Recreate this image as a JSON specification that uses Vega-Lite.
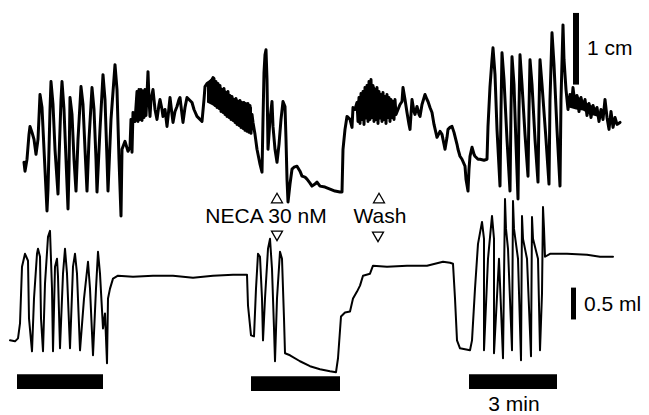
{
  "$schema": "https://vega.github.io/schema/vega-lite/v6.json",
  "width": 649,
  "height": 415,
  "padding": 0,
  "autosize": {"type": "fit", "contains": "padding"},
  "background": "white",
  "config": {"view": {"stroke": null}},
  "datasets": {
    "top": [
      {"t":24,"v":163},{"t":25,"v":172},{"t":27,"v":160},{"t":29,"v":135},{"t":30,"v":127},{"t":32,"v":133},{"t":34,"v":140},{"t":36,"v":155},{"t":38,"v":140},{"t":40,"v":95},{"t":42,"v":108},{"t":44,"v":150},{"t":47,"v":212},{"t":48,"v":190},{"t":50,"v":110},{"t":51,"v":82},{"t":53,"v":105},{"t":55,"v":150},{"t":58,"v":195},{"t":59,"v":160},{"t":61,"v":100},{"t":62,"v":82},{"t":64,"v":110},{"t":66,"v":160},{"t":68,"v":210},{"t":69,"v":170},{"t":70,"v":98},{"t":72,"v":115},{"t":74,"v":160},{"t":76,"v":192},{"t":78,"v":140},{"t":81,"v":87},{"t":83,"v":105},{"t":85,"v":150},{"t":87,"v":192},{"t":89,"v":140},{"t":92,"v":88},{"t":94,"v":110},{"t":96,"v":160},{"t":97,"v":193},{"t":100,"v":130},{"t":103,"v":75},{"t":105,"v":100},{"t":107,"v":160},{"t":108,"v":192},{"t":111,"v":120},{"t":115,"v":65},{"t":117,"v":90},{"t":119,"v":160},{"t":121,"v":217},{"t":122,"v":150},{"t":125,"v":142},{"t":128,"v":152},{"t":130,"v":148},{"t":131,"v":120},{"t":132,"v":153},{"t":133,"v":113},{"t":135,"v":122},{"t":137,"v":92},{"t":138,"v":122},{"t":139,"v":90},{"t":140,"v":120},{"t":141,"v":90},{"t":142,"v":121},{"t":143,"v":92},{"t":144,"v":118},{"t":145,"v":90},{"t":146,"v":116},{"t":147,"v":95},{"t":148,"v":72},{"t":149,"v":100},{"t":150,"v":117},{"t":151,"v":100},{"t":153,"v":90},{"t":155,"v":110},{"t":157,"v":120},{"t":159,"v":105},{"t":160,"v":100},{"t":162,"v":110},{"t":163,"v":117},{"t":165,"v":110},{"t":167,"v":127},{"t":169,"v":108},{"t":170,"v":98},{"t":172,"v":115},{"t":173,"v":123},{"t":175,"v":112},{"t":177,"v":107},{"t":179,"v":100},{"t":180,"v":98},{"t":182,"v":115},{"t":183,"v":123},{"t":185,"v":108},{"t":187,"v":98},{"t":189,"v":100},{"t":192,"v":103},{"t":194,"v":110},{"t":197,"v":117},{"t":200,"v":120},{"t":202,"v":122},{"t":204,"v":100},{"t":205,"v":87},{"t":207,"v":84},{"t":210,"v":82},{"t":212,"v":80},{"t":213,"v":78},
      {"t":214,"v":79},{"t":215,"v":106},{"t":216,"v":82},{"t":217,"v":108},{"t":218,"v":84},{"t":219,"v":109},{"t":220,"v":86},{"t":221,"v":112},{"t":222,"v":90},{"t":223,"v":113},{"t":224,"v":89},{"t":225,"v":115},{"t":226,"v":93},{"t":227,"v":117},{"t":228,"v":92},{"t":229,"v":118},{"t":230,"v":96},{"t":231,"v":120},{"t":232,"v":97},{"t":233,"v":121},{"t":234,"v":100},{"t":235,"v":123},{"t":236,"v":99},{"t":237,"v":125},{"t":238,"v":102},{"t":239,"v":126},{"t":240,"v":101},{"t":241,"v":128},{"t":242,"v":104},{"t":243,"v":129},{"t":244,"v":103},{"t":245,"v":131},{"t":246,"v":105},{"t":247,"v":132},{"t":248,"v":104},{"t":249,"v":133},{"t":250,"v":106},{"t":251,"v":134},{"t":252,"v":115},
      {"t":253,"v":123},{"t":255,"v":135},{"t":257,"v":150},{"t":260,"v":165},{"t":262,"v":173},{"t":263,"v":120},{"t":264,"v":73},{"t":265,"v":55},{"t":266,"v":50},{"t":267,"v":80},{"t":268,"v":150},{"t":270,"v":120},{"t":272,"v":102},{"t":273,"v":127},{"t":275,"v":150},{"t":277,"v":163},{"t":279,"v":145},{"t":281,"v":120},{"t":283,"v":102},{"t":285,"v":107},{"t":286,"v":140},{"t":287,"v":180},{"t":288,"v":203},{"t":290,"v":185},{"t":292,"v":170},{"t":294,"v":168},{"t":297,"v":167},{"t":300,"v":172},{"t":302,"v":177},{"t":305,"v":178},{"t":307,"v":180},{"t":310,"v":184},{"t":312,"v":187},{"t":315,"v":185},{"t":317,"v":183},{"t":320,"v":187},{"t":325,"v":188},{"t":330,"v":190},{"t":335,"v":192},{"t":340,"v":193},{"t":342,"v":193},{"t":343,"v":150},{"t":345,"v":130},{"t":347,"v":117},{"t":350,"v":120},{"t":352,"v":128},{"t":353,"v":108},{"t":355,"v":110},{"t":357,"v":103},
      {"t":358,"v":122},{"t":359,"v":98},{"t":360,"v":124},{"t":361,"v":94},{"t":362,"v":120},{"t":363,"v":92},{"t":364,"v":125},{"t":365,"v":88},{"t":366,"v":118},{"t":367,"v":86},{"t":368,"v":122},{"t":369,"v":82},{"t":370,"v":120},{"t":371,"v":80},{"t":372,"v":118},{"t":373,"v":86},{"t":374,"v":122},{"t":375,"v":90},{"t":376,"v":120},{"t":377,"v":88},{"t":378,"v":124},{"t":379,"v":92},{"t":380,"v":118},{"t":381,"v":95},{"t":382,"v":122},{"t":383,"v":93},{"t":384,"v":120},{"t":385,"v":97},{"t":386,"v":124},{"t":387,"v":95},{"t":388,"v":118},{"t":389,"v":98},{"t":390,"v":122},{"t":391,"v":100},{"t":392,"v":118},{"t":393,"v":102},{"t":394,"v":120},{"t":395,"v":100},{"t":396,"v":115},{"t":398,"v":110},{"t":400,"v":105},{"t":402,"v":102},{"t":403,"v":88},{"t":405,"v":100},{"t":407,"v":113},{"t":409,"v":125},{"t":410,"v":130},{"t":412,"v":100},{"t":414,"v":112},{"t":415,"v":115},{"t":417,"v":107},{"t":419,"v":115},{"t":420,"v":117},{"t":422,"v":105},{"t":425,"v":95},{"t":427,"v":100},{"t":428,"v":102},{"t":430,"v":108},{"t":432,"v":113},{"t":434,"v":125},{"t":437,"v":138},{"t":440,"v":132},{"t":442,"v":135},{"t":444,"v":145},{"t":445,"v":150},{"t":447,"v":138},{"t":448,"v":130},{"t":450,"v":128},{"t":452,"v":127},{"t":454,"v":133},{"t":455,"v":137},{"t":457,"v":145},{"t":458,"v":150},{"t":460,"v":157},{"t":462,"v":160},{"t":465,"v":167},{"t":466,"v":180},{"t":468,"v":192},{"t":469,"v":170},{"t":470,"v":157},{"t":472,"v":148},{"t":474,"v":155},{"t":475,"v":157},{"t":478,"v":160},{"t":480,"v":160},{"t":484,"v":161},{"t":487,"v":160},{"t":488,"v":127},{"t":490,"v":87},{"t":492,"v":60},{"t":493,"v":48},
      {"t":495,"v":75},{"t":497,"v":130},{"t":500,"v":187},{"t":501,"v":110},{"t":502,"v":53},{"t":504,"v":80},{"t":507,"v":140},{"t":510,"v":192},{"t":511,"v":110},{"t":512,"v":57},{"t":514,"v":85},{"t":516,"v":145},{"t":518,"v":200},{"t":519,"v":110},{"t":520,"v":55},{"t":522,"v":85},{"t":525,"v":135},{"t":528,"v":177},{"t":529,"v":110},{"t":530,"v":60},{"t":532,"v":85},{"t":535,"v":140},{"t":538,"v":183},{"t":539,"v":110},{"t":540,"v":60},{"t":542,"v":85},{"t":546,"v":140},{"t":549,"v":185},{"t":550,"v":100},{"t":552,"v":33},{"t":554,"v":65},{"t":557,"v":130},{"t":560,"v":187},{"t":561,"v":100},{"t":563,"v":25},
      {"t":564,"v":60},{"t":566,"v":90},{"t":568,"v":110},{"t":570,"v":95},{"t":572,"v":100},{"t":573,"v":88},{"t":575,"v":105},{"t":577,"v":96},{"t":579,"v":112},{"t":581,"v":98},{"t":583,"v":108},{"t":585,"v":100},{"t":587,"v":116},{"t":589,"v":104},{"t":591,"v":118},{"t":593,"v":106},{"t":595,"v":114},{"t":597,"v":108},{"t":599,"v":122},{"t":601,"v":110},{"t":603,"v":120},{"t":605,"v":100},{"t":607,"v":118},{"t":609,"v":130},{"t":611,"v":112},{"t":613,"v":128},{"t":615,"v":118},{"t":617,"v":125},{"t":620,"v":123}
    ],
    "bands": [
      {"band":"a","t":136,"lo":92,"hi":120},{"band":"a","t":140,"lo":90,"hi":121},{"band":"a","t":144,"lo":90,"hi":118},{"band":"a","t":147,"lo":93,"hi":114},
      {"band":"b","t":207,"lo":83,"hi":103},{"band":"b","t":213,"lo":78,"hi":106},{"band":"b","t":220,"lo":87,"hi":110},{"band":"b","t":227,"lo":92,"hi":116},{"band":"b","t":233,"lo":98,"hi":120},{"band":"b","t":240,"lo":101,"hi":126},{"band":"b","t":247,"lo":103,"hi":131},{"band":"b","t":252,"lo":108,"hi":134},
      {"band":"c","t":357,"lo":102,"hi":117},{"band":"c","t":362,"lo":94,"hi":120},{"band":"c","t":367,"lo":87,"hi":120},{"band":"c","t":371,"lo":83,"hi":119},{"band":"c","t":376,"lo":89,"hi":120},{"band":"c","t":382,"lo":95,"hi":120},{"band":"c","t":388,"lo":98,"hi":119},{"band":"c","t":394,"lo":101,"hi":118},
      {"band":"d","t":569,"lo":97,"hi":108},{"band":"d","t":576,"lo":95,"hi":110},{"band":"d","t":583,"lo":101,"hi":111},{"band":"d","t":590,"lo":105,"hi":115},{"band":"d","t":597,"lo":109,"hi":117}
    ],
    "bottom": [
      {"t":10,"v":342},{"t":15,"v":343},{"t":18,"v":340},{"t":20,"v":325},{"t":22,"v":268},{"t":25,"v":255},{"t":28,"v":262},{"t":29,"v":320},{"t":32,"v":353},{"t":34,"v":300},{"t":37,"v":255},{"t":38,"v":250},{"t":40,"v":258},{"t":41,"v":320},{"t":43,"v":353},{"t":45,"v":285},{"t":48,"v":238},{"t":50,"v":232},{"t":52,"v":290},{"t":53,"v":353},{"t":55,"v":268},{"t":57,"v":260},{"t":58,"v":278},{"t":60,"v":350},{"t":63,"v":275},{"t":65,"v":250},{"t":67,"v":275},{"t":70,"v":350},{"t":73,"v":268},{"t":75,"v":255},{"t":77,"v":275},{"t":80,"v":352},{"t":84,"v":300},{"t":88,"v":263},{"t":90,"v":290},{"t":93,"v":357},{"t":96,"v":290},{"t":98,"v":253},{"t":100,"v":275},{"t":103,"v":330},{"t":107,"v":365},{"t":105,"v":315},{"t":108,"v":300},{"t":110,"v":290},{"t":113,"v":280},{"t":118,"v":277},{"t":133,"v":278},{"t":153,"v":277},{"t":173,"v":277},{"t":193,"v":279},{"t":213,"v":277},{"t":233,"v":276},{"t":247,"v":276},{"t":248,"v":307},{"t":251,"v":337},{"t":254,"v":338},{"t":256,"v":290},{"t":258,"v":255},{"t":260,"v":258},{"t":262,"v":300},{"t":263,"v":342},{"t":265,"v":300},{"t":268,"v":250},{"t":270,"v":240},{"t":272,"v":270},{"t":274,"v":330},{"t":275,"v":363},{"t":277,"v":300},{"t":280,"v":253},{"t":282,"v":260},{"t":284,"v":320},{"t":285,"v":355},{"t":290,"v":357},{"t":300,"v":363},{"t":310,"v":368},{"t":320,"v":371},{"t":330,"v":373},{"t":336,"v":374},{"t":338,"v":360},{"t":341,"v":318},{"t":345,"v":314},{"t":350,"v":313},{"t":353,"v":300},{"t":357,"v":293},{"t":360,"v":287},{"t":363,"v":277},{"t":370,"v":275},{"t":373,"v":267},{"t":387,"v":268},{"t":407,"v":267},{"t":427,"v":267},{"t":443,"v":263},{"t":450,"v":264},{"t":453,"v":265},{"t":455,"v":300},{"t":457,"v":342},{"t":460,"v":350},{"t":470,"v":352},{"t":472,"v":342},{"t":475,"v":290},{"t":478,"v":245},{"t":482,"v":223},{"t":484,"v":240},{"t":484,"v":352},{"t":488,"v":260},{"t":492,"v":217},{"t":494,"v":240},{"t":494,"v":355},{"t":499,"v":260},{"t":505,"v":200},{"t":506,"v":230},{"t":503,"v":360},{"t":508,"v":250},{"t":513,"v":202},{"t":514,"v":230},{"t":512,"v":352},{"t":518,"v":260},{"t":522,"v":217},{"t":523,"v":240},{"t":521,"v":362},{"t":527,"v":260},{"t":532,"v":218},{"t":533,"v":240},{"t":531,"v":358},{"t":538,"v":260},{"t":543,"v":208},{"t":544,"v":230},{"t":540,"v":352},{"t":542,"v":295},{"t":545,"v":258},{"t":550,"v":255},{"t":567,"v":255},{"t":587,"v":256},{"t":600,"v":258},{"t":613,"v":258}
    ],
    "bars": [
      {"t0":17,"t1":103,"v0":376,"v1":391},
      {"t0":251,"t1":340,"v0":378,"v1":393},
      {"t0":469,"t1":557,"v0":376,"v1":391},
      {"t0":573,"t1":579,"v0":13,"v1":85},
      {"t0":571,"t1":576,"v0":289,"v1":321}
    ],
    "labels": [
      {"t":266,"v":218,"label":"NECA 30 nM","align":"center"},
      {"t":380,"v":218,"label":"Wash","align":"center"},
      {"t":514,"v":407,"label":"3 min","align":"center"},
      {"t":587,"v":49,"label":"1 cm","align":"left"},
      {"t":584,"v":306,"label":"0.5 ml","align":"left"}
    ],
    "marks": [
      {"t":277,"v":199,"dir":"up"},
      {"t":277,"v":237,"dir":"down"},
      {"t":379,"v":199,"dir":"up"},
      {"t":378,"v":238,"dir":"down"}
    ]
  },
  "layer": [
    {
      "data": {"name": "bands"},
      "mark": {"type": "area", "color": "black", "opacity": 1},
      "encoding": {
        "x": {"field": "t", "type": "quantitative", "scale": {"domain": [0, 649], "nice": false, "zero": false}, "axis": null},
        "y": {"field": "lo", "type": "quantitative", "scale": {"domain": [0, 415], "nice": false, "zero": false, "reverse": true}, "axis": null},
        "y2": {"field": "hi"},
        "detail": {"field": "band", "type": "nominal"}
      }
    },
    {
      "data": {"name": "top"},
      "mark": {"type": "line", "color": "black", "strokeWidth": 3, "strokeJoin": "round", "strokeCap": "round"},
      "encoding": {
        "x": {"field": "t", "type": "quantitative"},
        "y": {"field": "v", "type": "quantitative"},
        "order": {"value": 0}
      }
    },
    {
      "data": {"name": "bottom"},
      "mark": {"type": "line", "color": "black", "strokeWidth": 2, "strokeJoin": "round", "strokeCap": "round"},
      "encoding": {
        "x": {"field": "t", "type": "quantitative"},
        "y": {"field": "v", "type": "quantitative"},
        "order": {"value": 0}
      }
    },
    {
      "data": {"name": "bars"},
      "mark": {"type": "rect", "color": "black"},
      "encoding": {
        "x": {"field": "t0", "type": "quantitative"},
        "x2": {"field": "t1"},
        "y": {"field": "v0", "type": "quantitative"},
        "y2": {"field": "v1"}
      }
    },
    {
      "data": {"name": "labels"},
      "transform": [{"filter": "datum.align == 'center'"}],
      "mark": {"type": "text", "font": "Liberation Sans", "fontSize": 21, "align": "center", "baseline": "middle", "color": "black"},
      "encoding": {
        "x": {"field": "t", "type": "quantitative"},
        "y": {"field": "v", "type": "quantitative"},
        "text": {"field": "label"}
      }
    },
    {
      "data": {"name": "labels"},
      "transform": [{"filter": "datum.align == 'left'"}],
      "mark": {"type": "text", "font": "Liberation Sans", "fontSize": 21, "align": "left", "baseline": "middle", "color": "black"},
      "encoding": {
        "x": {"field": "t", "type": "quantitative"},
        "y": {"field": "v", "type": "quantitative"},
        "text": {"field": "label"}
      }
    },
    {
      "data": {"name": "marks"},
      "mark": {"type": "point", "filled": false, "color": "black", "strokeWidth": 1.3, "size": 120, "opacity": 1},
      "encoding": {
        "x": {"field": "t", "type": "quantitative"},
        "y": {"field": "v", "type": "quantitative"},
        "shape": {"field": "dir", "type": "nominal", "scale": {"domain": ["up", "down"], "range": ["triangle-up", "triangle-down"]}, "legend": null}
      }
    }
  ]
}
